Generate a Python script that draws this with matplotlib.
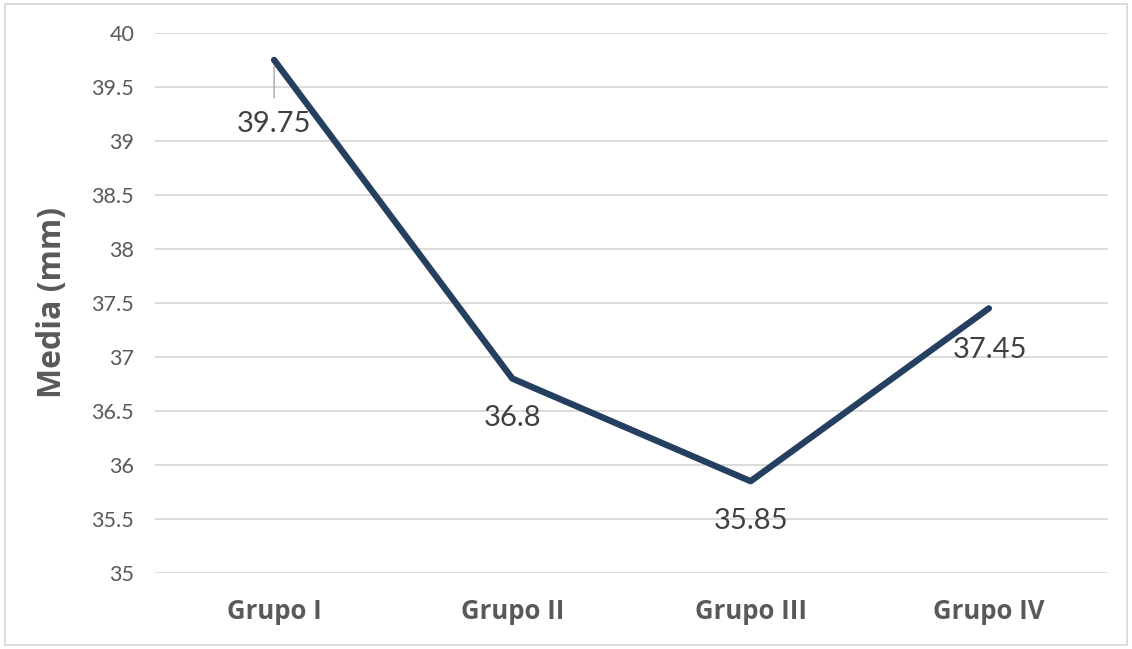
import matplotlib.pyplot as plt
from matplotlib.patches import Rectangle

grupos = ['Grupo I', 'Grupo II', 'Grupo III', 'Grupo IV']
media = [39.75, 36.8, 35.85, 37.45]
yticks = [35, 35.5, 36, 36.5, 37, 37.5, 38, 38.5, 39, 39.5, 40]

plt.rcParams['font.family'] = ['Lato', 'DejaVu Sans']

fig = plt.figure(figsize=(11.32, 6.49), dpi=100)
ax = fig.add_axes([0.1369, 0.1171, 0.9788 - 0.1369, 0.9492 - 0.1171])

x = range(len(grupos))
ax.plot(x, media, color='#243F60', lw=4.6, solid_capstyle='round',
        solid_joinstyle='round', zorder=3)

ax.set_xlim(-0.5, len(grupos) - 0.5)
ax.set_ylim(35, 40)
ax.set_yticks(yticks)
ax.set_yticklabels([f'{v:g}' for v in yticks], fontsize=15.5, color='#595959')
ax.set_xticks(list(x))
ax.set_xticklabels(grupos, fontsize=18.5, fontweight='bold', color='#595959',
                   family='Open Sans')
ax.tick_params(length=0, pad=15)
ax.tick_params(axis='x', pad=18)
ax.grid(axis='y', color='#d9d9d9', lw=1.3)
for s in ax.spines.values():
    s.set_visible(False)
ax.set_ylabel('Media (mm)', fontsize=23, fontweight='bold', color='#595959',
              family='Open Sans', labelpad=16)

# data labels below the points, the first one with a leader line
offsets = [64, 39, 40, 42]
for i, v in enumerate(media):
    dx = 0 if i < 3 else 1
    ax.annotate(f'{v:g}', (i, v), xytext=(dx, -offsets[i]),
                textcoords='offset pixels', ha='center', va='center',
                fontsize=21, color='#404040', zorder=4)
ax.annotate('', (0, media[0]), xytext=(0, -38), textcoords='offset pixels',
            arrowprops=dict(arrowstyle='-', color='#a6a6a6', lw=1,
                            shrinkA=0, shrinkB=4))

fig.patches.append(Rectangle((5 / 1132, 4 / 649), 1122 / 1132, 641 / 649,
                             transform=fig.transFigure, fill=False,
                             edgecolor='#d9d9d9', lw=1.3))

fig.savefig('out.png', dpi=100)
